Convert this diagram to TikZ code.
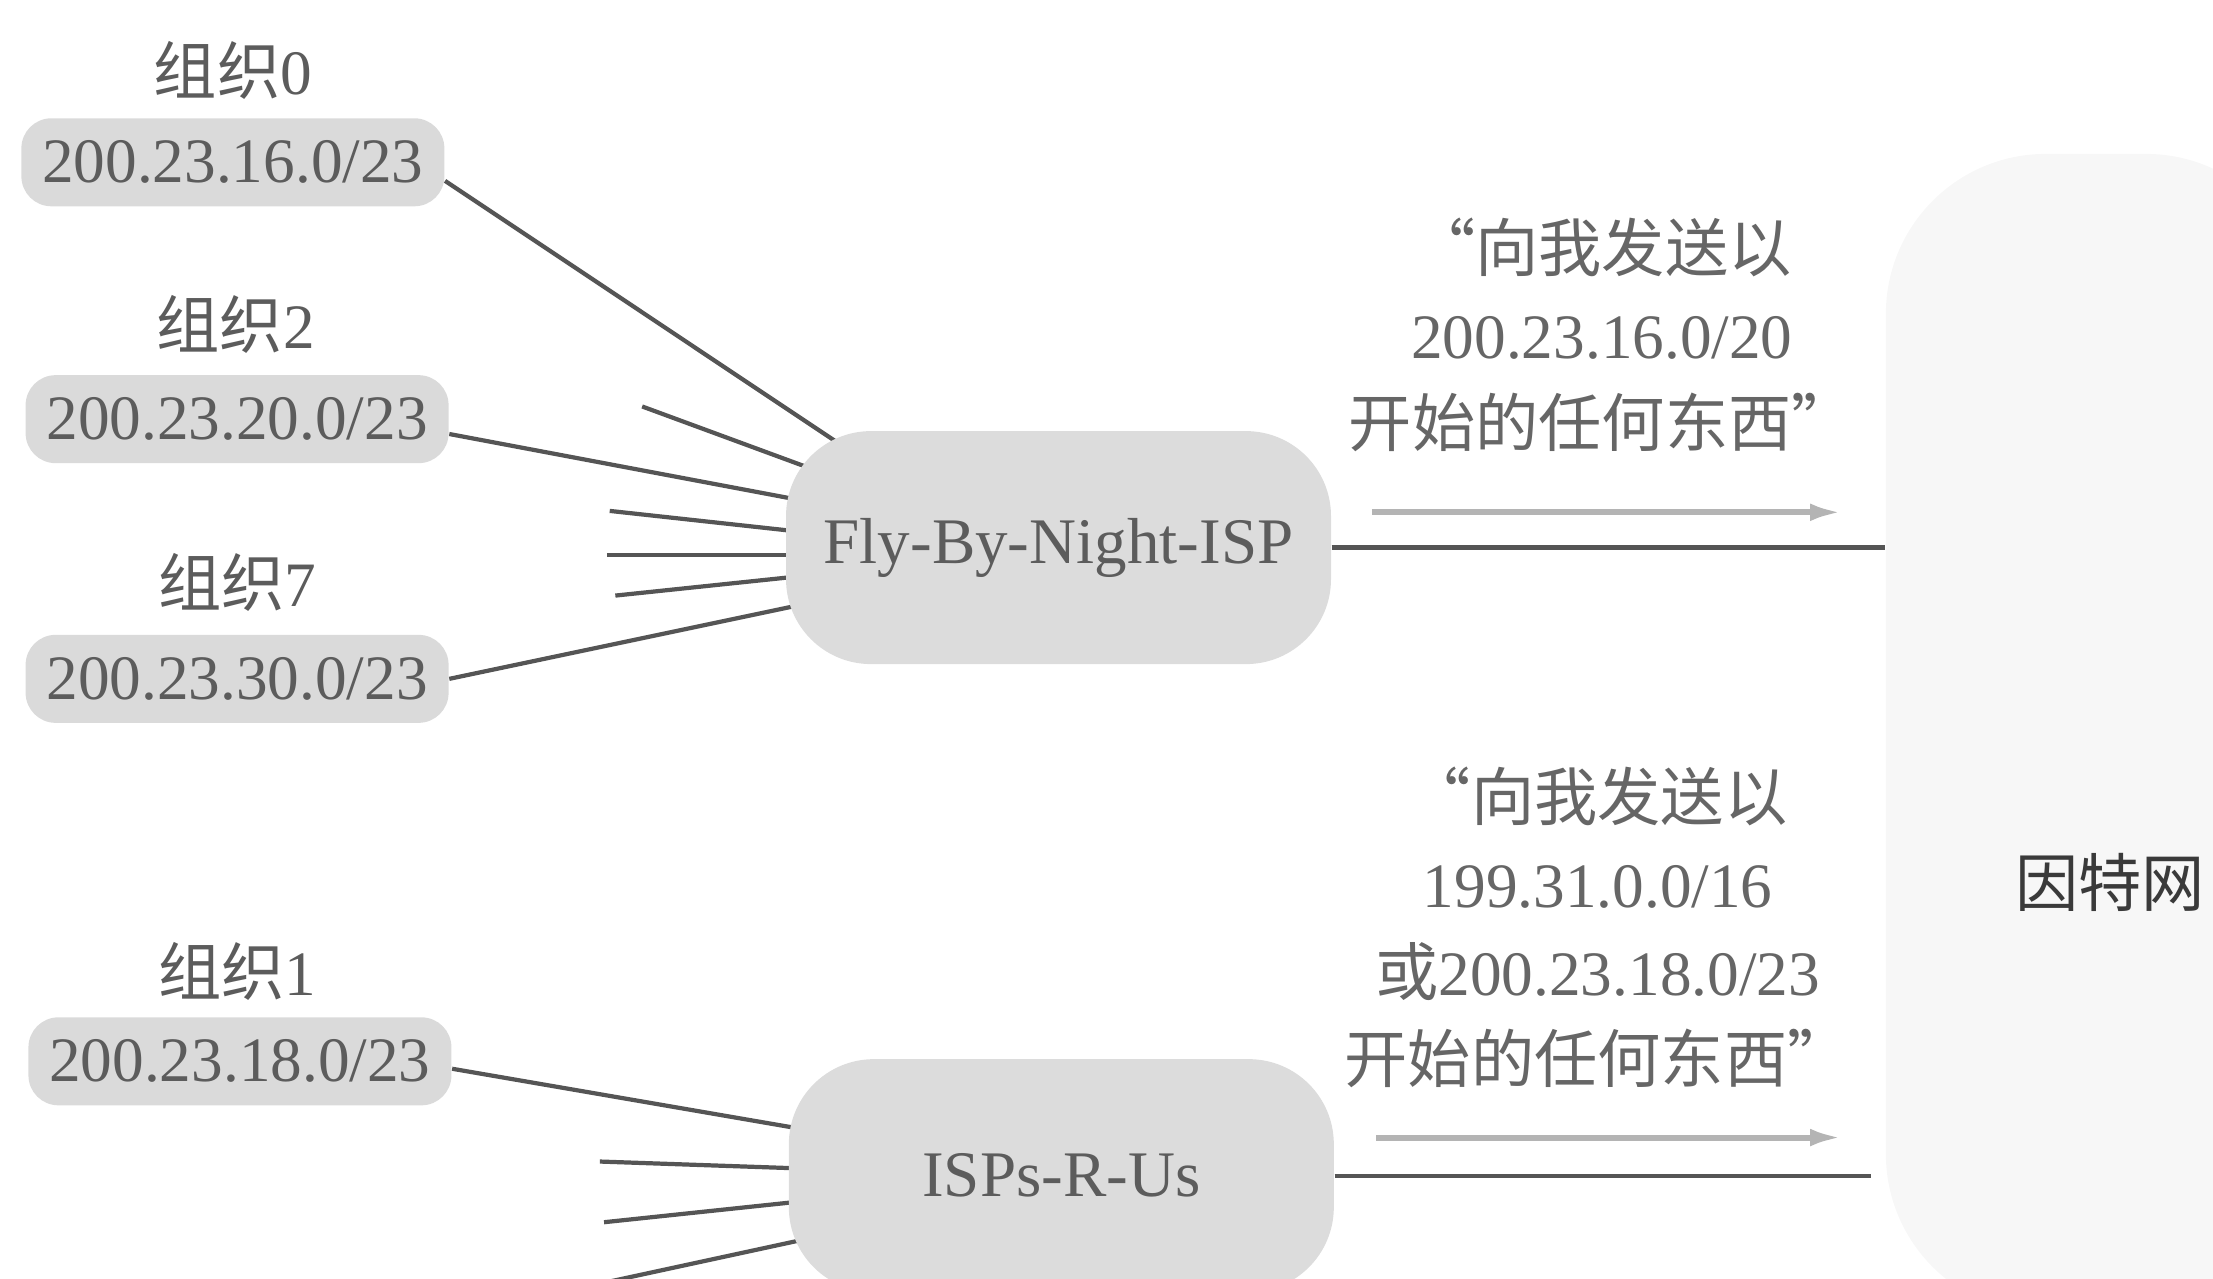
\documentclass[tikz,border=0pt]{standalone}
\usepackage{fontspec}
\setmainfont{Liberation Serif}
\newfontfamily\cjk{Noto Sans CJK SC}
\usetikzlibrary{calc,arrows.meta}
\definecolor{txt}{HTML}{5C5C5C}
\definecolor{lbltxt}{HTML}{666666}
\definecolor{blobgray}{HTML}{DADADA}
\definecolor{cloudgray}{HTML}{DCDCDC}
\definecolor{linegray}{HTML}{555555}
\definecolor{arrowgray}{HTML}{B4B4B4}
\definecolor{inetgray}{HTML}{F7F7F7}
\definecolor{inettxt}{HTML}{3A3A3A}
\begin{document}
\begin{tikzpicture}[x=0.014113cm,y=-0.014113cm,
  blob/.style={fill=blobgray, rounded corners=0.3cm, minimum width=4.23cm,
    minimum height=0.88cm, inner sep=0pt, text=txt,
    font=\fontsize{18}{20}\selectfont},
  orgname/.style={text=txt, inner sep=0pt, font=\fontsize{18}{20}\selectfont},
  cloudbox/.style={fill=cloudgray, rounded corners=0.85cm, minimum width=5.45cm,
    minimum height=2.33cm, inner sep=0pt, text=txt,
    font=\fontsize{18.5}{20}\selectfont},
  link/.style={draw=linegray, line width=1.2pt},
  adv/.style={draw=arrowgray, line width=1.7pt, -{Latex[length=9pt,width=5pt]}},
  lbl/.style={text=lbltxt, align=center, inner sep=0pt,
    font=\fontsize{18}{24.9}\selectfont},
]
\useasboundingbox (0,0) rectangle (1568,906);

% faint Internet cloud
\node[fill=inetgray, rounded corners=1.6cm, minimum width=4.2cm,
  minimum height=11.6cm, inner sep=0pt] (inet) at (1485,520) {};
\node[text=inettxt, inner sep=0pt, font=\cjk\fontsize{18}{20}\selectfont]
  (inettext) at (1495,625) {因特网};

% organisations
\node[orgname] (n0) at (165,50) {{\cjk 组织}0};
\node[blob] (o0) at (165,115) {200.23.16.0/23};
\node[orgname] (n2) at (167,230) {{\cjk 组织}2};
\node[blob] (o2) at (168,297) {200.23.20.0/23};
\node[orgname] (n7) at (168,413) {{\cjk 组织}7};
\node[blob] (o7) at (168,481) {200.23.30.0/23};
\node[orgname] (n1) at (168,688) {{\cjk 组织}1};
\node[blob] (o1) at (170,752) {200.23.18.0/23};

% end points on the ISP clouds and free stub ends
\coordinate (f1) at (600,318);
\coordinate (f2s) at (455,288); \coordinate (f2) at (580,334);
\coordinate (f3) at (565,354);
\coordinate (f4s) at (432,362); \coordinate (f4) at (560,376);
\coordinate (f5s) at (430,393); \coordinate (f5) at (560,393);
\coordinate (f6s) at (436,422); \coordinate (f6) at (560,409);
\coordinate (f7) at (570,428);
\coordinate (i1) at (580,802);
\coordinate (i2s) at (425,823); \coordinate (i2) at (570,828);
\coordinate (i3s) at (428,866); \coordinate (i3) at (570,851);
\coordinate (i4s) at (432,908); \coordinate (i4) at (580,876);

\draw[link] (o0.-5) -- (f1);
\draw[link] (f2s) -- (f2);
\draw[link] (o2.-4) -- (f3);
\draw[link] (f4s) -- (f4);
\draw[link] (f5s) -- (f5);
\draw[link] (f6s) -- (f6);
\draw[link] (o7.east) -- (f7);
\draw[link] (o1.-2) -- (i1);
\draw[link] (i2s) -- (i2);
\draw[link] (i3s) -- (i3);
\draw[link] (i4s) -- (i4);

% ISP clouds
\node[cloudbox] (fly) at (750,388) {Fly-By-Night-ISP};
\node[cloudbox] (isp) at (752,833) {ISPs-R-Us};

% links to the Internet
\draw[link] (fly.east) -- (fly.east -| inet.west);
\draw[link] (isp.east) -- ($(isp.east -| inet.west)+(-10,0)$);

% advertisements
\coordinate (a1s) at (972,363); \coordinate (a1e) at (1305,363);
\coordinate (a2s) at (975,806); \coordinate (a2e) at (1305,806);
\draw[adv] (a1s) -- (a1e);
\draw[adv] (a2s) -- (a2e);

\node[lbl] (m1) at (1135,237)
  {{\cjk “向我发送以}\\200.23.16.0/20\\{\cjk 开始的任何东西”}};
\node[lbl] (m2) at (1132,657)
  {{\cjk “向我发送以}\\199.31.0.0/16\\{\cjk 或}200.23.18.0/23\\{\cjk 开始的任何东西”}};
\end{tikzpicture}
\end{document}
